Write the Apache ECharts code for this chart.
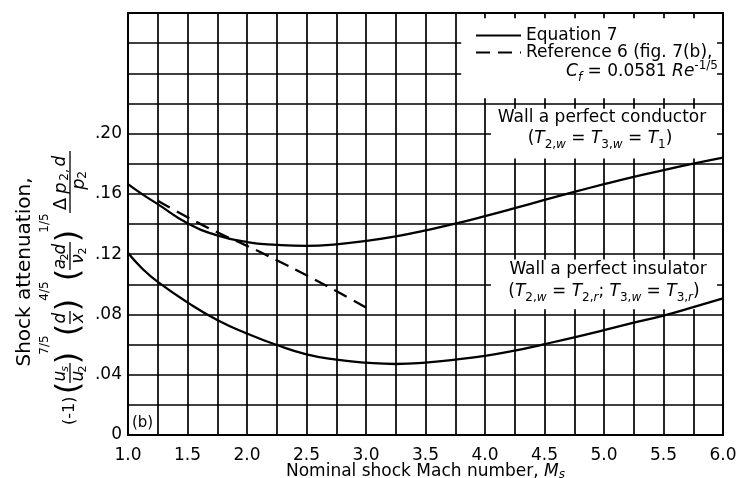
<!DOCTYPE html>
<html><head><meta charset="utf-8">
<script src="https://cdn.jsdelivr.net/npm/echarts@6/dist/echarts.min.js"></script>
<style>html,body{margin:0;padding:0;background:#fff}#c{width:750px;height:478px}</style>
</head><body><div id="c"></div>
<script>
// ---- data ----
const machNumbers = [1.0,1.125,1.25,1.5,1.75,2.0,2.25,2.5,2.75,3.0,3.25,3.5,3.75,4.0,4.25,4.5,4.75,5.0,5.25,5.5,5.75,6.0];
const conductorWall = [0.1665,0.1595,0.1532,0.1405,0.1325,0.1280,0.1262,0.1255,0.1265,0.1288,0.1318,0.1358,0.1402,0.1452,0.1505,0.1560,0.1613,0.1664,0.1713,0.1757,0.1800,0.1840];
const insulatorWall = [0.1207,0.1100,0.1016,0.0880,0.0763,0.0673,0.0597,0.0535,0.0500,0.0480,0.0471,0.0480,0.0500,0.0525,0.0560,0.0603,0.0648,0.0696,0.0745,0.0792,0.0848,0.0906];
const refMach = [1.25,1.5,1.75,2.0,2.25,2.5,2.75,3.0];
const reference6 = [0.1555,0.1445,0.1345,0.1255,0.1160,0.1060,0.0955,0.0845];
const xLabelValues = [1.0,1.5,2.0,2.5,3.0,3.5,4.0,4.5,5.0,5.5,6.0];
const yLabelValues = [0,0.04,0.08,0.12,0.16,0.20];
const seriesNames = ['Equation 7','Reference 6 (fig. 7(b),'];
// label boxes (in data units): [xMin, yMin, xMax, yMax]
const labelBoxes = [[3.75,0.22,6.0,0.28],[4.0,0.18,6.0,0.22],[4.0,0.08,6.0,0.12]];

const FONT = 'DejaVu Sans';
const pairs = (xs, ys) => xs.map((x, i) => [x, ys[i]]);
const near = (v, arr) => arr.some(a => Math.abs(a - v) < 1e-6);

// white interior of the label boxes, leaving short grid stubs at the edges
const stubX = 0.05, stubY = 0.0035;
const boxAreas = labelBoxes.map(b => [
  {coord: [b[0] + stubX, b[1] + stubY]},
  {coord: [b[2] - stubX, b[3] - stubY]}
]);

// y-axis title built from pieces in a rotated group (local x runs upward)
function t(s, x, y, size, opt) {
  opt = opt || {};
  return {type: 'text', x: x, y: y, silent: true, style: {
    text: s, fontSize: size, fontFamily: FONT, fill: '#000',
    fontStyle: opt.italic ? 'italic' : 'normal',
    align: opt.align || 'center', verticalAlign: 'middle'}};
}
function bar(x1, x2, y) {
  return {type: 'line', silent: true, shape: {x1: x1, y1: y, x2: x2, y2: y}, style: {stroke: '#000', lineWidth: 1.3}};
}
const L = 70, N = L - 9, D = L + 9, SUP = L - 25; // formula rows
const I = {italic: true};
const titleParts = [
  t('Shock attenuation,', 158, 25, 20),
  t('(-1)', 5, L, 16, {align: 'left'}),
  t('(', 42, L, 32), t('u', 54, N, 17, I), t('s', 61, N + 4, 11, I),
  bar(47, 67, L), t('u', 54, D, 17, I), t('2', 61, D + 4, 11), t(')', 72, L, 32),
  t('7/5', 85, SUP, 12),
  t('(', 100, L, 32), t('d', 112, N, 17, I), bar(106, 119, L), t('x', 112, D, 17, I), t(')', 125, L, 32),
  t('4/5', 139, SUP, 12),
  t('(', 155, L, 32), t('a', 166, N, 17, I), t('2', 173, N + 4, 11), t('d', 181, N, 17, I),
  bar(160, 188, L), t('ν', 171, D, 17, I), t('2', 179, D + 4, 11), t(')', 194, L, 32),
  t('1/5', 207, SUP, 12),
  t('Δ', 226, N, 18), t('p', 242, N, 18, I), t('2,', 255, N + 4, 12), t('d', 269, N, 17, I),
  bar(217, 279, L), t('p', 246, D, 18, I), t('2', 255, D + 4, 12)
];

const rich = {
  n: {fontSize: 17, fontFamily: FONT, lineHeight: 24, verticalAlign: 'middle'},
  i: {fontSize: 17, fontFamily: FONT, fontStyle: 'italic', lineHeight: 24, verticalAlign: 'middle'},
  s: {fontSize: 12, fontFamily: FONT, lineHeight: 13, verticalAlign: 'bottom'},
  si: {fontSize: 12, fontFamily: FONT, fontStyle: 'italic', lineHeight: 13, verticalAlign: 'bottom'},
  p: {fontSize: 12, fontFamily: FONT, lineHeight: 13, verticalAlign: 'top'}
};
const nameRich = {
  n: {fontSize: 17, fontFamily: FONT, lineHeight: 18, verticalAlign: 'middle'},
  i: {fontSize: 17, fontFamily: FONT, fontStyle: 'italic', lineHeight: 18, verticalAlign: 'middle'},
  si: {fontSize: 12, fontFamily: FONT, fontStyle: 'italic', lineHeight: 12, verticalAlign: 'bottom'}
};
function richText(s, x, y, align) {
  return {type: 'text', x: x, y: y, silent: true, z: 10, style: {
    text: s, rich: rich, fill: '#000', align: align || 'center', verticalAlign: 'middle', fontFamily: FONT}};
}

const chart = echarts.init(document.getElementById('c'), null, {renderer: 'canvas'});
chart.setOption({
  animation: false,
  backgroundColor: '#fff',
  textStyle: {fontFamily: FONT, color: '#000'},
  grid: {left: 128, right: 27, top: 13, bottom: 43, outerBoundsMode: 'none', containLabel: false,
    show: true, borderColor: '#000', borderWidth: 1.8, backgroundColor: 'transparent'},
  xAxis: {
    type: 'value', min: 1, max: 6, interval: 0.25,
    axisLine: {show: true, lineStyle: {color: '#000', width: 1.8}},
    axisTick: {show: false},
    splitLine: {show: true, lineStyle: {color: '#000', width: 1.7}},
    axisLabel: {color: '#000', fontSize: 17, margin: 12, fontFamily: FONT,
      formatter: v => near(v, xLabelValues) ? v.toFixed(1) : ''},
    name: '{n|Nominal shock Mach number, }{i|M}{si|s}', nameLocation: 'middle', nameGap: 28,
    nameMoveOverlap: false,
    nameTextStyle: {rich: nameRich}
  },
  yAxis: {
    type: 'value', min: 0, max: 0.28, interval: 0.02,
    axisLine: {show: true, lineStyle: {color: '#000', width: 1.8}},
    axisTick: {show: false},
    splitLine: {show: true, lineStyle: {color: '#000', width: 1.7}},
    axisLabel: {color: '#000', fontSize: 17, margin: 6, fontFamily: FONT,
      formatter: v => !near(v, yLabelValues) ? '' : (v === 0 ? '0' : '.' + Math.round(v * 100).toString().padStart(2, '0'))}
  },
  legend: {
    data: seriesNames, orient: 'vertical', left: 470, top: 22,
    itemWidth: 45, itemHeight: 12, itemGap: 0,
    itemStyle: {opacity: 0},
    textStyle: {fontSize: 17, color: '#000', fontFamily: FONT},
    selectedMode: false
  },
  series: [
    {name: seriesNames[0], type: 'line', smooth: true, symbol: 'none', z: 3,
      lineStyle: {color: '#000', width: 2.3}, itemStyle: {color: '#000'},
      data: pairs(machNumbers, conductorWall),
      markArea: {silent: true, z: 1, itemStyle: {color: '#fff', opacity: 1, borderWidth: 0}, label: {show: false}, data: boxAreas}},
    {name: seriesNames[0], type: 'line', smooth: true, symbol: 'none', z: 3,
      lineStyle: {color: '#000', width: 2.3}, itemStyle: {color: '#000'},
      data: pairs(machNumbers, insulatorWall)},
    {name: seriesNames[1], type: 'line', smooth: true, symbol: 'none', z: 3,
      lineStyle: {color: '#000', width: 2.3, type: [14, 8]}, itemStyle: {color: '#000'},
      data: pairs(refMach, reference6)}
  ],
  graphic: [
    {type: 'group', x: 0, y: 430, rotation: Math.PI / 2, children: titleParts},
    richText('{i|C}{si|f}{n| = 0.0581 }{i|Re}{p|-1/5}', 718, 72, 'right'),
    richText('{n|Wall a perfect conductor}', 602, 118),
    richText('{n|(}{i|T}{s|2,}{si|w}{n| = }{i|T}{s|3,}{si|w}{n| = }{i|T}{s|1}{n|)}', 600, 139),
    richText('{n|Wall a perfect insulator}', 608, 270),
    richText('{n|(}{i|T}{s|2,}{si|w}{n| = }{i|T}{s|2,}{si|r}{n|; }{i|T}{s|3,}{si|w}{n| = }{i|T}{s|3,}{si|r}{n|)}', 604, 292),
    {type: 'text', x: 132, y: 423, silent: true, z: 10, style: {text: '(b)', fontSize: 15, fontFamily: FONT, fill: '#000', verticalAlign: 'middle'}}
  ]
});
</script></body></html>
